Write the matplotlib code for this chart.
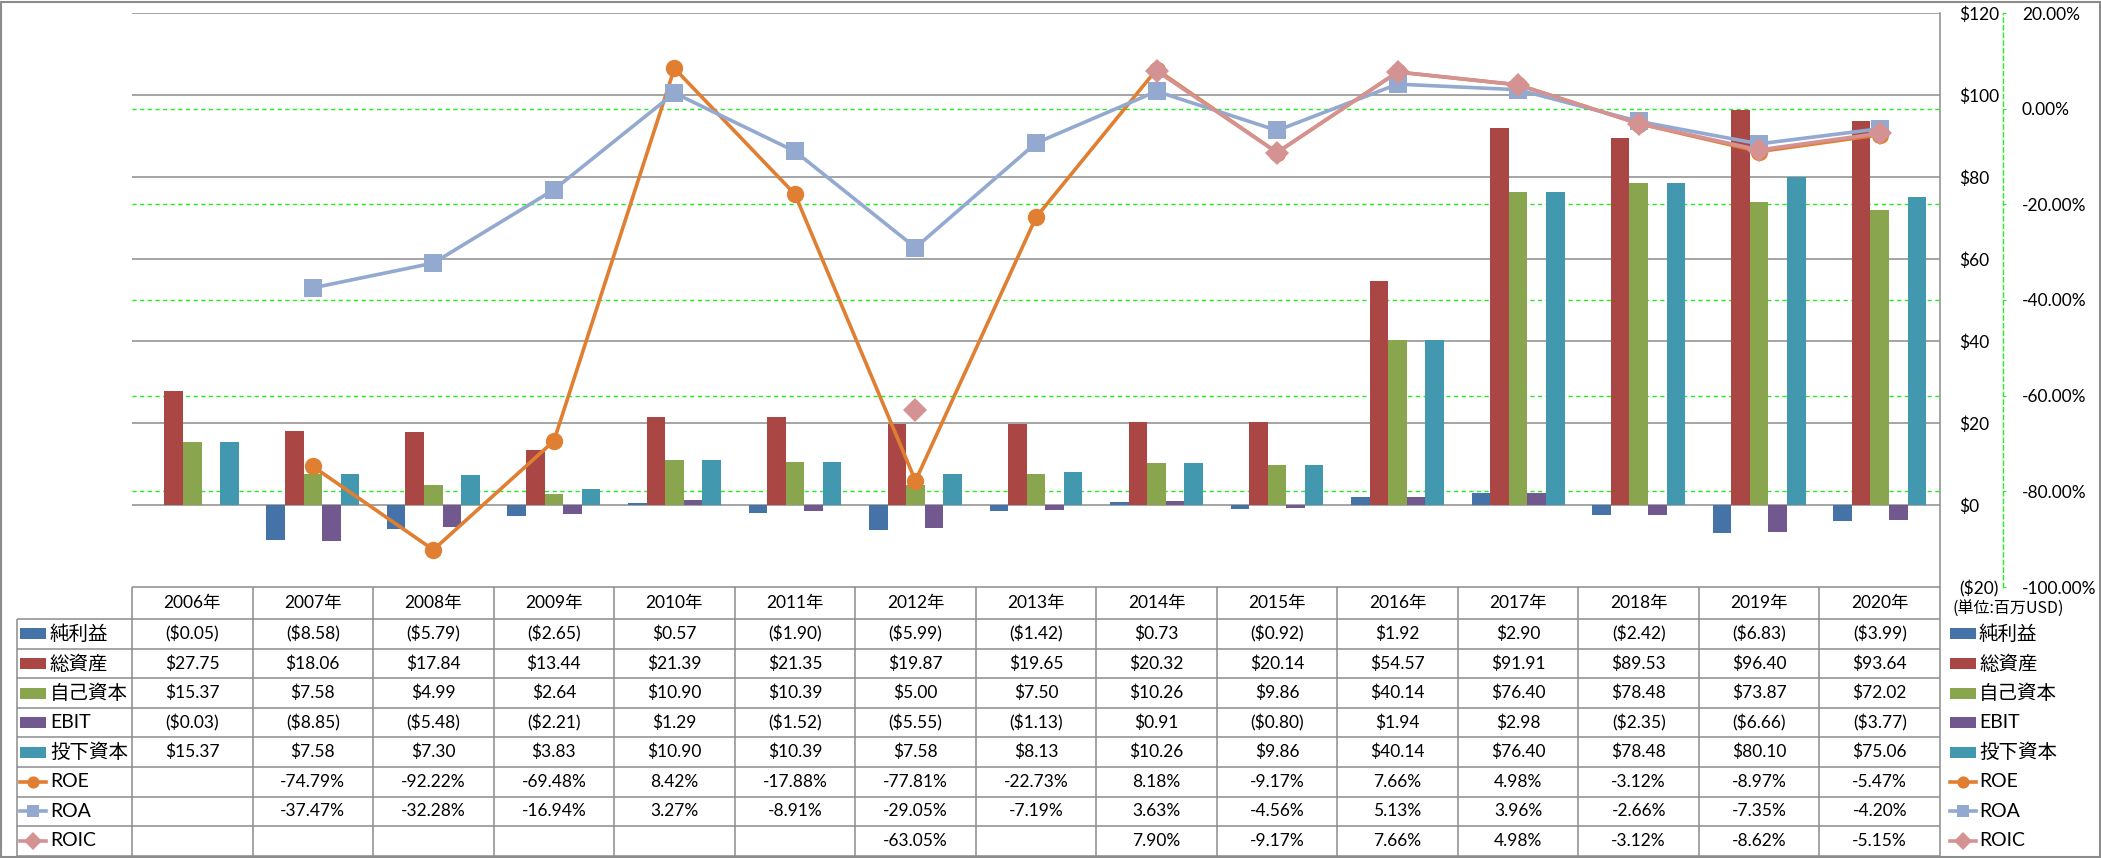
import matplotlib.pyplot as plt
import numpy as np
from matplotlib.patches import Rectangle
from matplotlib.lines import Line2D
from matplotlib.transforms import blended_transform_factory

plt.rcParams['font.family'] = ['Lato', 'Noto Sans CJK JP']

years = ["2006年", "2007年", "2008年", "2009年", "2010年", "2011年", "2012年", "2013年",
         "2014年", "2015年", "2016年", "2017年", "2018年", "2019年", "2020年"]

net_income = [-0.05, -8.58, -5.79, -2.65, 0.57, -1.90, -5.99, -1.42, 0.73, -0.92, 1.92, 2.90, -2.42, -6.83, -3.99]
total_assets = [27.75, 18.06, 17.84, 13.44, 21.39, 21.35, 19.87, 19.65, 20.32, 20.14, 54.57, 91.91, 89.53, 96.40, 93.64]
equity = [15.37, 7.58, 4.99, 2.64, 10.90, 10.39, 5.00, 7.50, 10.26, 9.86, 40.14, 76.40, 78.48, 73.87, 72.02]
ebit = [-0.03, -8.85, -5.48, -2.21, 1.29, -1.52, -5.55, -1.13, 0.91, -0.80, 1.94, 2.98, -2.35, -6.66, -3.77]
invested = [15.37, 7.58, 7.30, 3.83, 10.90, 10.39, 7.58, 8.13, 10.26, 9.86, 40.14, 76.40, 78.48, 80.10, 75.06]

nan = np.nan
roe = [nan, -74.79, -92.22, -69.48, 8.42, -17.88, -77.81, -22.73, 8.18, -9.17, 7.66, 4.98, -3.12, -8.97, -5.47]
roa = [nan, -37.47, -32.28, -16.94, 3.27, -8.91, -29.05, -7.19, 3.63, -4.56, 5.13, 3.96, -2.66, -7.35, -4.20]
roic = [nan, nan, nan, nan, nan, nan, -63.05, nan, 7.90, -9.17, 7.66, 4.98, -3.12, -8.62, -5.15]

bar_names = ["純利益", "総資産", "自己資本", "EBIT", "投下資本"]
bar_data = [net_income, total_assets, equity, ebit, invested]
bar_colors = ["#4572A7", "#AA4643", "#89A54E", "#71588F", "#4198AF"]

line_names = ["ROE", "ROA", "ROIC"]
line_data = [roe, roa, roic]
line_colors = ["#E07F32", "#93A9CF", "#D49293"]
line_markers = ["o", "s", "D"]
line_msizes = [12.5, 13, 12.5]

usd_ticks = [-20, 0, 20, 40, 60, 80, 100, 120]
pct_ticks = [-100, -80, -60, -40, -20, 0, 20]

W, H = 2101, 858
grid_gray = "#8C8C8C"
green = "#22EE22"
neg_red = "#FF0000"
fs = 12.5

fig = plt.figure(figsize=(W / 100, H / 100), dpi=100)

# ---------------- main plot ----------------
ax = fig.add_axes([132 / W, 1 - 587 / H, 1808 / W, 574 / H])
ax2 = ax.twinx()

x = np.arange(len(years))
bw = 0.154
for i, (vals, c) in enumerate(zip(bar_data, bar_colors)):
    ax.bar(x + (i - 2) * bw, vals, width=bw, color=c, zorder=3)

ax.set_xlim(-0.5, len(years) - 0.5)
ax.set_ylim(-20, 120)
ax.set_xticks([])
ax.set_yticks(usd_ticks)
ax.set_yticklabels([f"${t}" if t >= 0 else f"(${-t})" for t in usd_ticks])
for lab, t in zip(ax.get_yticklabels(), usd_ticks):
    if t < 0:
        lab.set_color(neg_red)
ax.yaxis.tick_right()
ax.tick_params(axis="y", length=0, pad=14, labelsize=fs)
for t in usd_ticks[1:]:
    ax.axhline(t, color=grid_gray, lw=1.1, zorder=1)
for s in ["left", "top", "bottom"]:
    ax.spines[s].set_visible(False)
ax.spines["right"].set_color(grid_gray)
ax.spines["right"].set_linewidth(1.1)

ax2.set_ylim(-100, 20)
ax2.set_yticks(pct_ticks)
ax2.set_yticklabels([f"{t:.2f}%" for t in pct_ticks])
for lab, t in zip(ax2.get_yticklabels(), pct_ticks):
    if t < 0:
        lab.set_color(neg_red)
ax2.tick_params(axis="y", length=2.5, color=green, pad=11, labelsize=fs)
for s in ["left", "top", "bottom"]:
    ax2.spines[s].set_visible(False)
ax2.spines["right"].set_position(("axes", (2003 - 132) / 1808))
ax2.spines["right"].set_color(green)
ax2.spines["right"].set_linestyle((0, (3, 2.5)))
ax2.spines["right"].set_linewidth(1)

# percent gridlines, drawn behind the bars
tr = blended_transform_factory(ax.transAxes, ax2.transData)
for t in pct_ticks[1:-1]:
    ax.plot([0, 1], [t, t], transform=tr, color=green, lw=1, ls=(0, (3, 2.5)), zorder=1)

for vals, c, m, ms in zip(line_data, line_colors, line_markers, line_msizes):
    ax2.plot(x, vals, color=c, lw=2.6, marker=m, markersize=ms, markeredgewidth=0,
             solid_joinstyle="round", zorder=4)

# ---------------- data table ----------------
tab = fig.add_axes([132 / W, 1 - 856 / H, 1808 / W, 269 / H])
tab.set_xlim(-0.5, len(years) - 0.5)
tab.set_ylim(856, 587)
tab.axis("off")
col_w = 1808 / len(years)


def xpx(p):
    return -0.5 + (p - 132) / col_w


row_h = 29.6
header_bottom = 619
row_edges = [header_bottom + i * row_h for i in range(9)]
row_mid = [header_bottom + (i + 0.5) * row_h for i in range(8)]

tab.hlines(587, -0.5, len(years) - 0.5, color=grid_gray, lw=1.1, clip_on=False)
tab.hlines(row_edges, xpx(17), len(years) - 0.5, color=grid_gray, lw=1.1, clip_on=False)
tab.vlines(np.arange(len(years) + 1) - 0.5, 587, row_edges[-1], color=grid_gray, lw=1.1, clip_on=False)
tab.vlines(xpx(17), header_bottom, row_edges[-1], color=grid_gray, lw=1.1, clip_on=False)

for j, y in enumerate(years):
    tab.text(j, 603, y, ha="center", va="center", fontsize=fs)


def money(v):
    return f"${v:.2f}" if v >= 0 else f"(${-v:.2f})"


for r, vals in enumerate(bar_data):
    for j, v in enumerate(vals):
        tab.text(j, row_mid[r], money(v), ha="center", va="center", fontsize=fs)
for r, vals in enumerate(line_data):
    for j, v in enumerate(vals):
        if not np.isnan(v):
            tab.text(j, row_mid[5 + r], f"{v:.2f}%", ha="center", va="center", fontsize=fs)

# legend keys (left in table, and repeated at the right)
all_names = bar_names + line_names
for left_px, text_px in [(20, 50), (1950, 1979)]:
    for r, name in enumerate(all_names):
        ym = row_mid[r]
        x0, x1 = xpx(left_px), xpx(left_px + 26)
        if r < 5:
            tab.add_patch(Rectangle((x0, ym - 5.5), x1 - x0, 11, color=bar_colors[r],
                                    clip_on=False, lw=0))
        else:
            k = r - 5
            tab.add_line(Line2D([x0, x1], [ym, ym], color=line_colors[k], lw=2.6, clip_on=False))
            tab.add_line(Line2D([(x0 + x1) / 2], [ym], marker=line_markers[k], markersize=line_msizes[k] * 0.7,
                                color=line_colors[k], markeredgewidth=0, clip_on=False))
        tab.text(xpx(text_px), ym, name, ha="left", va="center", fontsize=14, clip_on=False)

tab.text(xpx(1952), 609, "(単位:百万USD)", ha="left", va="center", fontsize=11.5,
         family=['Noto Sans CJK JP'], clip_on=False)

fig.add_artist(Rectangle((1 / W, 1 / H), (W - 2.5) / W, (H - 2.5) / H, transform=fig.transFigure,
                         fill=False, ec=grid_gray, lw=1.5))

fig.savefig("out.png", dpi=100)
